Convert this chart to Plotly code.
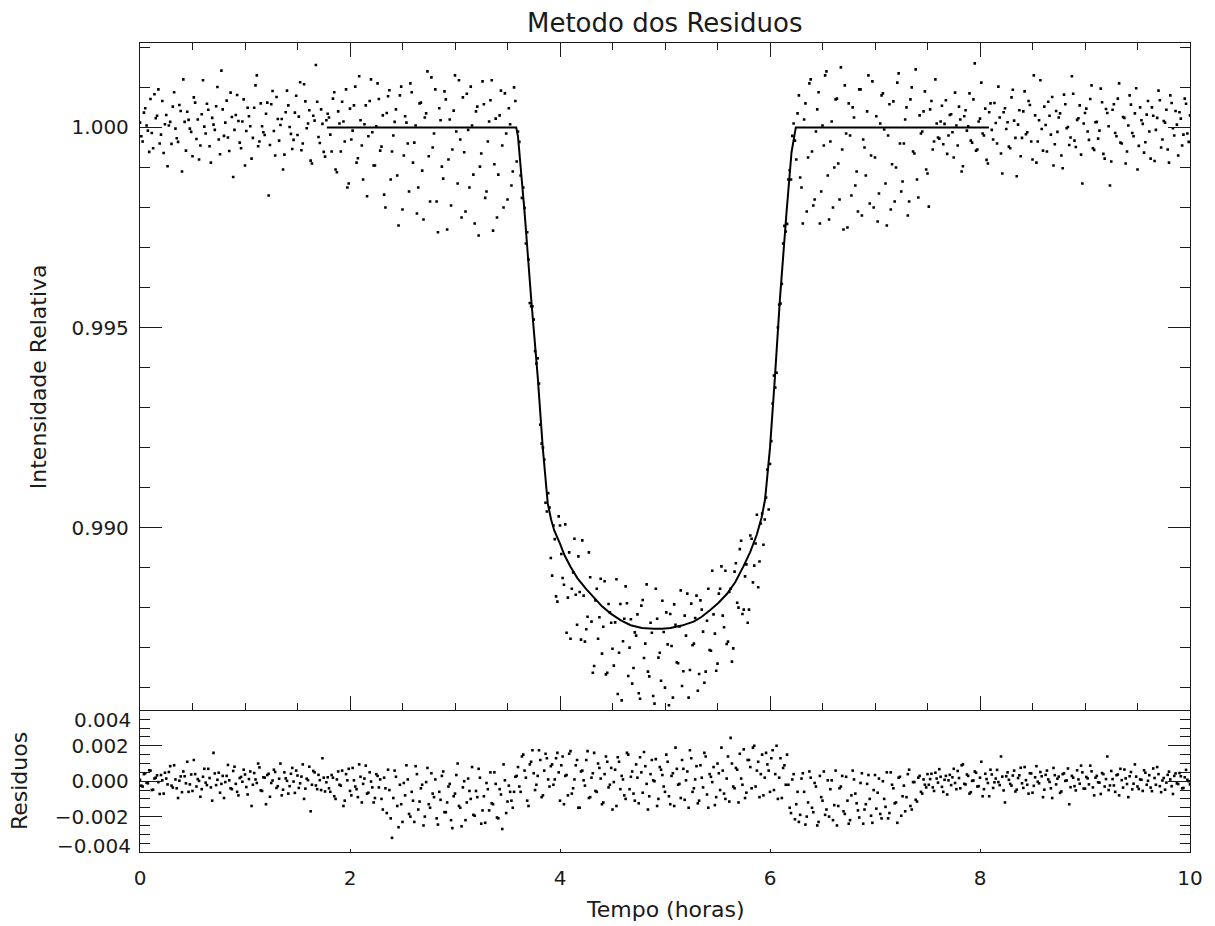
import numpy as np
import plotly.graph_objects as go

# ---------------- data ----------------
# Relative intensity, samples on the 0.025 h cadence (t = 0, 0.025, ..., 10)
flux = [
    1.00012, 0.99965, 1.00048, 0.99992, 1.00071, 0.99948, 1.00023, 1.00095, 0.99982, 0.99936,
    1.00031, 1.00005, 0.99959, 1.00088, 0.99973, 1.00056, 0.99890, 1.00014, 1.00039, 0.99997,
    0.99928, 1.00062, 1.00020, 0.99955, 1.00118, 0.99985, 1.00044, 0.99912, 1.00007, 1.00053,
    0.99970, 1.00142, 0.99979, 1.00067, 0.99941, 1.00026, 0.99994, 1.00081, 0.99962, 1.00015,
    0.99905, 1.00049, 1.00003, 0.99974, 1.00105, 0.99953, 1.00060, 0.99988, 1.00034, 0.99830,
    1.00058, 0.99991, 1.00076, 0.99967, 1.00021, 0.99932, 1.00092, 1.00001, 0.99946, 1.00037,
    0.99981, 1.00113, 0.99960, 1.00065, 1.00010, 0.99917, 1.00029, 1.00156, 0.99976, 1.00045,
    0.99939, 1.00018,
    1.00025, 0.99940, 1.00088, 0.99888, 1.00010, 1.00064, 0.99965, 0.99850, 1.00047, 0.99992,
    1.00102, 0.99923, 1.00018, 0.99870, 1.00055, 0.99978, 1.00120, 0.99905, 1.00003, 1.00071,
    0.99952, 0.99832, 1.00036, 1.00093, 0.99940, 1.00014, 0.99880, 1.00080, 0.99795, 1.00028,
    0.99960, 1.00110, 0.99912, 1.00005, 0.99850, 1.00062, 0.99770, 1.00035, 0.99928, 1.00125,
    0.99985, 0.99815, 1.00048, 0.99902, 1.00090, 0.99745, 1.00020, 0.99945, 1.00130, 0.99860,
    0.99970, 1.00075, 0.99790, 0.99994, 1.00102, 0.99882, 1.00040, 0.99730, 0.99935, 1.00058,
    0.99840, 1.00015, 1.00118, 0.99908, 0.99775, 1.00030, 0.99955, 1.00085, 0.99820, 1.00008,
    0.99890, 1.00066,
    0.99990, 0.99880, 0.99850, 0.99710, 0.99670, 0.99553, 0.99520, 0.99410, 0.99360, 0.99210,
    0.99170, 0.99040,
    0.99050, 0.98880, 0.98971, 0.98815, 0.99005, 0.98874, 0.99008, 0.98825, 0.98722, 0.98888,
    0.98832, 0.98928, 0.98720, 0.98830, 0.98746, 0.98938, 0.98765, 0.98654, 0.98847, 0.98776,
    0.98685, 0.98866, 0.98637, 0.98788, 0.98697, 0.98763, 0.98584, 0.98809, 0.98716, 0.98853,
    0.98629, 0.98771, 0.98649, 0.98730, 0.98586, 0.98805, 0.98674, 0.98858, 0.98628, 0.98737,
    0.98560, 0.98772, 0.98687, 0.98817, 0.98600, 0.98708, 0.98784, 0.98575, 0.98757, 0.98661,
    0.98843, 0.98641, 0.98730, 0.98575, 0.98810, 0.98710, 0.98830, 0.98634, 0.98795, 0.98612,
    0.98767, 0.98694, 0.98892, 0.98735, 0.98660, 0.98847, 0.98780, 0.98892, 0.98715, 0.98847,
    0.98698, 0.98911, 0.98800, 0.98967, 0.98795, 0.98908, 0.98795, 0.98972, 0.98905, 0.99032,
    0.98915, 0.99035, 0.99020, 0.99145, 0.99159,
    0.99310, 0.99350, 0.99500, 0.99560, 0.99710, 0.99740, 0.99870, 0.99870, 1.00010, 0.99920,
    1.00080, 0.99850, 1.00020, 0.99790, 1.00110, 0.99940, 0.99820, 1.00045, 0.99760, 1.00005,
    1.00130, 0.99880, 0.99965, 0.99800, 1.00070, 0.99910, 1.00150, 0.99745, 0.99985, 1.00060,
    0.99830, 1.00025, 0.99890, 1.00095, 0.99780, 0.99950, 1.00040, 0.99810, 1.00115, 0.99925,
    0.99765, 1.00010, 1.00085, 0.99860, 0.99980, 0.99795, 1.00065, 0.99900, 1.00135, 0.99840,
    0.99960, 1.00050, 0.99815, 1.00100, 0.99935, 0.99870, 1.00030, 0.99990, 1.00090, 0.99885,
    1.00045, 0.99945, 1.00120, 0.99975,
    1.00015, 0.99958, 1.00068, 0.99980, 1.00033, 0.99925, 1.00005, 1.00052, 0.99890, 1.00028,
    0.99992, 1.00085, 0.99962, 1.00160, 0.99945, 1.00022, 0.99985, 1.00047, 0.99910, 1.00060,
    0.99970, 1.00011, 1.00102, 0.99935, 1.00038, 0.99996, 0.99952, 1.00075, 1.00017, 0.99878,
    1.00043, 0.99974, 1.00090, 0.99988, 1.00056, 0.99920, 1.00030, 0.99965, 1.00118, 0.99942,
    1.00006, 1.00064, 0.99982, 0.99905, 1.00041, 1.00025, 0.99930, 1.00082, 0.99998, 0.99956,
    1.00128, 0.99967, 1.00019, 1.00055, 0.99860, 1.00036, 0.99990, 1.00071, 0.99948, 1.00013,
    0.99972, 1.00097, 0.99934, 1.00046, 1.00003, 0.99915, 1.00058, 0.99978, 1.00110, 0.99960,
    1.00024, 0.99940, 1.00080, 0.99986, 1.00035, 0.99895, 1.00050, 1.00009, 0.99963, 1.00066,
    0.99922, 1.00029, 0.99994, 1.00092, 0.99950, 1.00016, 1.00044, 0.99912, 1.00061, 0.99980,
    1.00007, 1.00038, 0.99955, 1.00072, 0.99985, 1.00030,
]

# Relative intensity, samples half-way between (t = 0.0125, 0.0375, ..., 9.9875)
flux_mid = [
    0.99978, 1.00037, 1.00005, 0.99939, 0.99986, 1.00083, 1.00029, 0.99960, 1.00066, 1.00008,
    0.99903, 1.00014, 1.00052, 0.99997, 0.99964, 1.00041, 1.00120, 0.99942, 1.00019, 0.99989,
    1.00075, 0.99971, 0.99920, 1.00033, 1.00002, 1.00059, 0.99953, 1.00024, 0.99994, 1.00101,
    0.99933, 1.00045, 1.00012, 0.99975, 1.00087, 0.99876, 1.00031, 1.00016, 0.99948, 1.00070,
    0.99991, 1.00028, 0.99922, 1.00049, 1.00130, 0.99965, 1.00003, 0.99981, 1.00062, 0.99956,
    1.00091, 0.99930, 1.00021, 1.00006, 0.99895, 1.00038, 1.00055, 0.99984, 0.99969, 1.00079,
    1.00027, 0.99943, 1.00108, 0.99998, 1.00043, 0.99910, 1.00017, 1.00064, 0.99961, 1.00009,
    0.99927, 1.00034,
    0.99982, 1.00072, 0.99895, 1.00040, 0.99940, 1.00015, 1.00095, 0.99860, 0.99970, 1.00055,
    0.99912, 1.00128, 0.99955, 1.00008, 0.99828, 1.00066, 0.99988, 0.99905, 1.00110, 0.99942,
    1.00030, 0.99800, 1.00078, 0.99870, 0.99980, 1.00045, 0.99755, 1.00102, 0.99930, 1.00012,
    0.99840, 1.00088, 0.99962, 0.99785, 1.00060, 0.99892, 1.00025, 1.00140, 0.99815, 0.99950,
    1.00095, 0.99738, 1.00018, 0.99872, 1.00070, 0.99920, 0.99805, 1.00042, 0.99990, 1.00118,
    0.99775, 0.99938, 1.00084, 0.99850, 1.00005, 0.99760, 1.00052, 0.99902, 1.00115, 0.99824,
    0.99965, 1.00068, 0.99742, 1.00022, 0.99882, 1.00092, 0.99800, 0.99985, 1.00048, 0.99855,
    1.00100, 0.99915,
    0.99964, 0.99824, 0.99799, 0.99738, 0.99561, 0.99553, 0.99441, 0.99423, 0.99257, 0.99200,
    0.99062, 0.99086,
    0.98924, 0.99005, 0.98828, 0.99028, 0.98934, 0.98857, 0.98737, 0.98938, 0.98847, 0.98972,
    0.98757, 0.98839, 0.98968, 0.98715, 0.98777, 0.98876, 0.98637, 0.98818, 0.98722, 0.98872,
    0.98752, 0.98633, 0.98809, 0.98762, 0.98655, 0.98871, 0.98687, 0.98568, 0.98772, 0.98811,
    0.98700, 0.98610, 0.98738, 0.98783, 0.98572, 0.98819, 0.98710, 0.98640, 0.98762, 0.98579,
    0.98847, 0.98675, 0.98617, 0.98739, 0.98788, 0.98556, 0.98704, 0.98808, 0.98663, 0.98753,
    0.98604, 0.98780, 0.98835, 0.98644, 0.98706, 0.98774, 0.98592, 0.98818, 0.98740, 0.98640,
    0.98847, 0.98692, 0.98783, 0.98642, 0.98835, 0.98903, 0.98751, 0.98709, 0.98839, 0.98665,
    0.98890, 0.98812, 0.98946, 0.98784, 0.98878, 0.98762, 0.98980, 0.98863, 0.98960, 0.98851,
    0.99010, 0.98957, 0.99075, 0.99045,
    0.99216, 0.99380, 0.99387, 0.99557, 0.99609, 0.99754, 0.99759, 0.99893, 0.99979, 0.99967,
    1.00035, 0.99875, 0.99760, 1.00060, 0.99925, 1.00120, 0.99805, 0.99990, 1.00088, 0.99840,
    0.99955, 1.00140, 0.99770, 1.00015, 0.99900, 1.00072, 0.99820, 0.99945, 1.00105, 0.99750,
    0.99980, 1.00050, 0.99855, 0.99790, 1.00095, 0.99970, 0.99880, 1.00130, 0.99930, 0.99800,
    1.00028, 0.99835, 1.00080, 0.99995, 0.99755, 1.00058, 0.99908, 0.99815, 1.00112, 0.99960,
    0.99865, 1.00020, 0.99780, 1.00070, 0.99940, 1.00145, 0.99825, 0.99985, 1.00040, 0.99895,
    0.99802, 1.00066, 0.99965, 1.00010,
    0.99972, 1.00054, 1.00009, 0.99934, 1.00031, 0.99988, 1.00087, 0.99955, 1.00020, 0.99903,
    1.00043, 1.00003, 0.99967, 1.00070, 0.99942, 1.00015, 1.00112, 0.99980, 0.99919, 1.00038,
    0.99994, 1.00061, 0.99960, 1.00025, 0.99885, 1.00048, 1.00013, 0.99948, 1.00094, 0.99974,
    1.00007, 0.99928, 1.00040, 0.99983, 1.00066, 0.99965, 1.00130, 0.99912, 1.00018, 0.99996,
    1.00052, 0.99940, 1.00029, 1.00076, 0.99958, 0.99989, 1.00035, 0.99898, 1.00058, 1.00001,
    0.99975, 1.00084, 0.99951, 1.00023, 0.99932, 1.00010, 1.00047, 0.99969, 1.00105, 0.99944,
    1.00014, 0.99992, 1.00063, 0.99922, 1.00036, 0.99855, 1.00044, 0.99986, 1.00072, 0.99962,
    1.00026, 0.99910, 1.00005, 1.00057, 0.99978, 1.00098, 0.99954, 1.00018, 0.99937, 1.00032,
    0.99990, 1.00050, 0.99916, 1.00024, 1.00068, 0.99970, 1.00012, 0.99945, 1.00080, 0.99998,
    1.00041, 0.99930, 1.00022, 0.99982, 1.00059, 0.99964,
]

# Residuals on the 0.025 h cadence (t = 0, 0.025, ..., 10)
residuals = [
    0.00008, -0.0003, 0.00045, -0.00012, 0.0006, -0.00048, 0.0002, -0.00005, 0.00035, -0.0007,
    0.00015, 0.00052, -0.00025, 0.0009, -0.0004, 0.00003, -0.00062, 0.00028, 0.0011, -0.00018,
    -0.00055, 0.0004, 0.00012, -0.00088, 0.00025, -0.00008, 0.0007, -0.00035, 0.0016, -0.00022,
    0.00048, -0.00015, -0.00095, 0.0003, 0.00005, -0.00045, 0.00082, -0.0006, 0.00018, -0.00003,
    0.00038, -0.00075, 0.00055, -0.0002, 0.0001, 0.001, -0.00052, 0.00022, -0.0013, 0.00042,
    -0.0001, 0.00065, -0.00038, 0.00014, -0.0008, 0.0005, 0.00002, -0.00028, 0.00075, -0.00066,
    0.00032, -0.00012, 0.00095, -0.00042, 0.00006, -0.0017, 0.00058, -0.00024, 0.00036, -0.0005,
    0.0002, -0.00006,
    -0.0004, 0.00035, -0.00085, 0.0001, -0.0002, 0.0006, -0.0011, 0.00005, -0.00055, 0.00075,
    -0.0003, -0.0009, 0.00025, -0.00015, 0.00088, -0.00065, -0.00002, -0.0012, 0.0004, -0.00035,
    -0.001, 0.0002, -0.0018, -0.0005, -0.0032, 0.0006, -0.0014, -0.0002, -0.0023, -0.0008,
    0.0001, -0.002, -0.0011, 0.00085, -0.0016, -0.0004, -0.0025, -0.00005, -0.0013, 0.00045,
    -0.0009, -0.0021, -0.0006, 0.0003, -0.00175, -0.0012, -0.00015, -0.00265, -0.0007, 0.001,
    -0.0015, -0.00035, -0.0022, 0.00015, -0.001, -0.0019, -0.00055, 0.0007, -0.0024, -0.00085,
    -0.0001, -0.00165, -0.00125, 0.0005, -0.00205, -0.00045, -0.0027, 0.00005, -0.00115, -0.0006,
    -0.0015, 0.00025,
    0.0008, -0.0006, 0.0015, 0.0002, -0.0014, 0.0011, 0.00045, -0.0002, 0.00175, -0.0009,
    0.0006, 0.0013, -0.0003, 0.00095, 0.0001, 0.0016,
    -0.0011, 0.0014, 0.0003, -0.0008, 0.0017, -0.0004, 0.0009, -0.0015, 0.00055, 0.00005,
    0.0012, -0.00095, 0.0002, 0.0016, -0.0006, 0.00075, -0.0013, 0.0004, 0.0011, -0.0002,
    -0.0016, 0.00065, 0.00135, -0.00045, 0.0001, -0.001, 0.0015, 0.00025, -0.0007, 0.00095,
    -0.00125, 0.0005, 0.00165, -0.00015, -0.00085, 0.0012, 0.0, -0.0014, 0.0008, 0.00035,
    -0.0006, 0.0011, -0.0013, 0.00045, 0.0019, -0.0002, -0.00095, 0.0007, 0.00005, -0.0015,
    0.0013, -0.0004, 0.00085, -0.0011, 0.0002, 0.0016, -0.00075, 0.0004, -0.00005, -0.00135,
    0.001, -0.0005, 0.0006, -0.001, 0.0014, 0.00245, -0.0003, 0.00075, -0.0012, 0.00015,
    0.0018, -0.00065,
    0.0012, -0.0004, 0.002, 0.0006, -0.0009, 0.0015, 0.0002, 0.00095, -0.0006, 0.00175,
    0.0004, -0.001, 0.0013, 0.00075, -0.0002,
    -0.0002, -0.0018, 0.0004, -0.0013, -0.0023, 0.00015, -0.0006, -0.002, 0.00055, -0.0015,
    -0.0001, -0.0025, 0.0003, -0.0011, -0.0019, 0.00005, -0.00045, -0.0022, 0.0006, -0.0014,
    -0.0003, -0.0017, 0.00025, -0.0024, -0.0008, 0.0001, -0.00125, -0.00205, 0.00045, -0.0016,
    -0.00015, -0.001, -0.00235, 0.00035, -0.00065, -0.00185, 0.0, -0.00145, -0.0021, 0.0005,
    -0.0004, -0.0012, 0.0002, -0.00195, -0.00025, -0.0009, 0.00065, -0.0016, -0.00005, -0.00115,
    0.0003, -0.0007, -0.0002, 0.0004,
    0.00012, -0.00035, 0.00048, -0.00008, 0.00025, -0.0006, 0.0003, 0.00005, -0.00022, 0.0007,
    -0.00045, 0.00018, 0.0009, -0.00015, 0.00038, -0.0007, 0.00002, 0.00055, -0.0003, 0.0002,
    -0.00085, 0.00042, -0.0001, 0.00065, -0.00038, 0.00015, -0.00005, 0.0014, -0.00052, 0.00028,
    0.00008, -0.00025, 0.0006, -0.00048, 0.00033, -0.00012, 0.0008, -0.0002, 0.00045, -0.00065,
    0.00022, -0.00003, 0.00052, -0.0009, 0.00036, 0.0001, -0.0004, 0.00075, -0.00018, 0.00026,
    -0.00058, 0.00044, 0.00004, -0.0013, 0.0003, -0.00028, 0.00062, -0.00014, 0.0005, -0.00042,
    0.00016, 0.00088, -0.00035, 0.0002, -0.00006, -0.00072, 0.0004, 0.00012, -0.0005, 0.00058,
    -0.00024, 0.00034, -0.0008, 0.00006, 0.00066, -0.00016, 0.00028, -0.00046, 0.00095, -0.0003,
    0.0001, -0.00055, 0.00048, 0.00002, -0.00036, 0.00072, -0.0002, 0.0004, -0.00062, 0.00018,
    -0.00008, 0.00054, -0.00028, 0.0003, -0.00012, 0.00046, -0.0004, 0.00022, 0.00008, -0.00018,
]

# Residuals half-way between (t = 0.0125, 0.0375, ..., 9.9875)
residuals_mid = [
    -0.00025, 0.0004, -0.00008, 0.00062, -0.0005, 0.00015, 0.00033, -0.00072, 0.00005, 0.00048,
    -0.00018, 0.00085, -0.00036, 0.0001, -0.00095, 0.00027, 0.00055, -0.00012, -0.0006, 0.00038,
    0.0012, -0.0003, 0.00002, -0.00045, 0.0007, -0.00022, 0.00018, -0.0011, 0.00044, 0.00008,
    -0.00065, 0.0003, -0.00005, 0.00092, -0.0004, 0.00058, -0.00015, -0.0008, 0.00024, 0.00065,
    -0.00033, 0.00012, -0.0014, 0.00046, -0.0001, 0.00078, -0.00055, 0.0002, 0.00035, -0.00088,
    0.00004, 0.00052, -0.00028, 0.001, -0.00048, 0.00016, -0.0007, 0.00042, -0.00002, 0.0006,
    -0.00038, 0.00026, -0.001, 0.00014, 0.00082, -0.0002, 0.0005, -0.00045, 0.00006, 0.0013,
    -0.00058, 0.00022,
    -0.0006, 0.0002, -0.001, 0.00055, -0.00025, -0.0014, 0.0004, 0.0007, -0.0008, 0.00005,
    -0.00045, 0.00095, -0.0012, 0.00015, -0.0007, 0.0005, -0.00035, -0.00095, 0.0003, 0.0001,
    -0.0016, -0.0004, 0.00065, -0.0021, -0.00095, 0.00025, -0.0026, -0.0013, -0.0001, 0.0009,
    -0.00185, -0.0006, -0.0023, 0.0004, -0.00115, -0.0002, -0.002, 0.00075, -0.0015, -0.0007,
    0.0001, -0.00245, -0.00105, 0.00055, -0.00175, -0.0003, -0.0022, -0.00085, 0.00035, -0.0014,
    -0.00255, 0.0, -0.0012, -0.00055, 0.0008, -0.00195, -0.0009, 0.0002, -0.00165, -0.00235,
    -0.00045, 0.0005, -0.0013, -0.00015, -0.0021, -0.00075, 0.00095, -0.0018, -0.00025, -0.0011,
    -0.0006, 0.0003,
    -0.0003, 0.0014, 0.0006, -0.0011, 0.00095, 0.00175, -0.0005, 0.0003, 0.0012, -0.0008,
    0.00155, 0.0001, 0.00085, -0.0002, 0.0013, 0.0005,
    0.0009, -0.0013, 0.00035, 0.00155, -0.0007, 0.0001, 0.0012, -0.0015, 0.0006, -0.00025,
    0.0017, -0.0009, 0.00045, -0.00055, 0.001, 0.00015, -0.0012, 0.0014, -0.00035, 0.00075,
    -0.00005, -0.0014, 0.0011, 0.0003, -0.0008, 0.0016, -0.00045, 0.00055, -0.0011, 0.0002,
    0.00135, -0.00065, 0.00085, -0.0016, 0.0004, 0.00005, 0.00125, -0.001, 0.00065, -0.0003,
    0.0015, -0.00085, 0.0003, -0.0014, 0.0007, -0.00015, 0.0012, -0.00105, 0.00055, 0.00175,
    -0.0006, 0.0001, -0.00125, 0.0009, -0.00035, 0.0014, -0.0015, 0.00025, 0.0008, -0.0009,
    0.00045, 0.0019, -0.0007, 0.00015, -0.00115, 0.001, -0.0004, 0.00065, 0.00155, -0.0002,
    -0.00095, 0.0012,
    0.0008, 0.0019, -0.0003, 0.0011, 0.0004, -0.0008, 0.0016, 0.0006, 0.0013, -0.0005,
    0.002, 0.0002, -0.00095, 0.0009, 0.0015,
    -0.0015, 0.0001, -0.00215, -0.0006, -0.0019, 0.00045, -0.00245, -0.0012, 0.0002, -0.00175,
    -0.0003, -0.0023, -0.0009, 0.00055, -0.0016, -0.002, 0.00005, -0.00135, -0.0025, -0.0004,
    0.0003, -0.00185, -0.0011, -0.0022, 0.0006, -0.0007, -0.00165, -0.0001, -0.0024, -0.0013,
    0.00035, -0.00195, -0.0005, -0.00155, 0.00015, -0.0021, -0.001, 0.0005, -0.0018, -0.0002,
    -0.00125, -0.00235, 0.00025, -0.00085, -0.0017, 0.0004, -0.0014, -0.00005, -0.00105, 0.0002,
    -0.0006, 0.0001, -0.00035,
    -0.0002, 0.00042, -0.00055, 0.00015, 0.00068, -0.00032, 0.00008, -0.00075, 0.00036, 0.00022,
    -0.0001, 0.00058, -0.0004, 0.00095, -0.00018, 0.0003, -0.00062, 0.00004, 0.00048, -0.00028,
    0.0011, -0.00045, 0.00012, -0.00085, 0.00038, -0.00006, 0.00064, -0.00022, 0.00026, -0.0012,
    0.0005, -0.00015, 0.00032, -0.00058, 0.00018, 0.00076, -0.00038, 0.00006, -0.0007, 0.00044,
    -0.00026, 0.00085, -0.00012, 0.00028, -0.00048, 0.0006, -0.00004, -0.00095, 0.00034, 0.00014,
    -0.00066, 0.0004, 0.00002, 0.00072, -0.00034, 0.0002, -0.00052, 0.0001, 0.00088, -0.00042,
    0.00024, -0.00018, 0.00056, -0.0008, 0.0003, -0.00008, 0.00046, -0.0003, 0.0014, -0.00024,
    0.00012, -0.0006, 0.00038, 0.0007, -0.00036, 0.00016, -0.0009, 0.00052, -0.00014, 0.00026,
    -0.00044, 0.00008, 0.00062, -0.0002, 0.00034, -0.00056, 0.00018, 0.0008, -0.00028, 0.00004,
    -0.00048, 0.00036, 0.0001, -0.00072, 0.00044, -0.00016, 0.00028, -0.00038, 0.00064, 0.0,
]

# Fitted transit model (solid line)
model_time = [1.78, 3.583, 3.600, 3.662, 3.725, 3.788, 3.836, 3.883, 3.915, 3.946,
              4.000, 4.041, 4.100, 4.167, 4.250, 4.325, 4.400, 4.483, 4.580, 4.673,
              4.780, 4.894, 4.970, 5.052, 5.160, 5.273, 5.350, 5.431, 5.510, 5.589,
              5.670, 5.747, 5.810, 5.874, 5.920, 5.953, 5.975, 6.000, 6.047, 6.095,
              6.158, 6.205, 6.246, 8.085]
model_flux = [1.00000, 1.00000, 0.99977, 0.99790, 0.99573, 0.99376, 0.99199, 0.99061, 0.99020, 0.98992,
              0.98960, 0.98932, 0.98902, 0.98873, 0.98846, 0.98824, 0.98803, 0.98785, 0.98768, 0.98756,
              0.98749, 0.98747, 0.98747, 0.98749, 0.98755, 0.98765, 0.98777, 0.98794, 0.98812, 0.98834,
              0.98864, 0.98903, 0.98938, 0.98982, 0.99025, 0.99070, 0.99130, 0.99199, 0.99376, 0.99573,
              0.99790, 0.99938, 1.00000, 1.00000]

title_text = "Metodo dos Residuos"
x_title = "Tempo (horas)"
y_title_top = "Intensidade Relativa"
y_title_bottom = "Residuos"
x_tick_vals = [0, 2, 4, 6, 8, 10]
res_tick_vals = [-0.004, -0.002, 0.0, 0.002, 0.004]
res_tick_text = ["", "\u22120.002", "0.000", "0.002", ""]

# observation times (uniform 0.025 h cadence, two interleaved sets)
t_main = np.linspace(0, 10, len(flux))
t_mid = np.linspace(0.0125, 9.9875, len(flux_mid))
tr_main = np.linspace(0, 10, len(residuals))
tr_mid = np.linspace(0.0125, 9.9875, len(residuals_mid))

time_flux = np.concatenate([t_main, t_mid])
flux_all = np.concatenate([flux, flux_mid])
time_res = np.concatenate([tr_main, tr_mid])
res_all = np.concatenate([residuals, residuals_mid])

# ---------------- figure ----------------
FONT = "DejaVu Sans"
INK = "#1a1a1a"
W, H = 1215, 926
ML, MR, MT, MB = 140, 20, 43, 74
PW, PH = W - ML - MR, H - MT - MB
SPLIT = 0.175


def px_x(px):
    return (px - ML) / PW


def px_y(py):
    return (H - MB - py) / PH


dot = dict(color="black", size=2.6, symbol="square", line=dict(width=0))

fig = go.Figure()
fig.add_trace(go.Scatter(x=time_flux, y=flux_all, mode="markers", xaxis="x", yaxis="y",
                         marker=dot, hoverinfo="skip", showlegend=False))
fig.add_trace(go.Scatter(x=model_time, y=model_flux, mode="lines", xaxis="x", yaxis="y",
                         line=dict(color="black", width=2), hoverinfo="skip", showlegend=False))
fig.add_trace(go.Scatter(x=time_res, y=res_all, mode="markers", xaxis="x2", yaxis="y2",
                         marker=dot, hoverinfo="skip", showlegend=False))

common = dict(showline=True, linecolor=INK, linewidth=1.3, ticks="inside", tickcolor=INK,
              tickwidth=1.2, showgrid=False, zeroline=False,
              tickfont=dict(family=FONT, size=20, color=INK))

fig.update_layout(
    width=W, height=H,
    margin=dict(l=ML, r=MR, t=MT, b=MB, pad=0),
    paper_bgcolor="white", plot_bgcolor="white",
    showlegend=False,
    xaxis=dict(**common, domain=[0, 1], anchor="y", range=[0, 10], tickvals=x_tick_vals,
               ticklen=14, mirror="ticks", showticklabels=False,
               minor=dict(dtick=0.5, tick0=0, ticklen=7, ticks="inside", tickcolor=INK, tickwidth=1.2)),
    xaxis2=dict(**common, domain=[0, 1], anchor="y2", range=[0, 10], tickvals=x_tick_vals,
                ticklen=3, mirror=False, ticklabelstandoff=8),
    yaxis=dict(**common, domain=[SPLIT, 1], anchor="x", range=[0.98543, 1.00211],
               tick0=0.99, dtick=0.005, tickformat=".3f", ticklen=22, mirror="ticks",
               ticklabelstandoff=6,
               minor=dict(dtick=0.001, tick0=0.99, ticklen=10, ticks="inside", tickcolor=INK, tickwidth=1.2)),
    yaxis2=dict(**common, domain=[0, SPLIT], anchor="x2", range=[-0.004, 0.004],
                tickvals=res_tick_vals, ticktext=res_tick_text, ticklen=22, mirror="ticks",
                ticklabelstandoff=6,
                minor=dict(dtick=0.0005, tick0=0, ticklen=10, ticks="inside", tickcolor=INK, tickwidth=1.2)),
)

ann_font = dict(family=FONT, color=INK)
annotations = [
    dict(text=title_text, x=px_x(667.5), y=px_y(22.7), font=dict(**ann_font, size=26),
         xanchor="center", yanchor="middle"),
    dict(text=x_title, x=px_x(667.7), y=px_y(910), font=dict(**ann_font, size=22),
         xanchor="center", yanchor="middle"),
    dict(text=y_title_top, x=px_x(38), y=px_y(376.7), textangle=-90, font=dict(**ann_font, size=22),
         xanchor="center", yanchor="middle"),
    dict(text=y_title_bottom, x=px_x(19), y=px_y(781.5), textangle=-90, font=dict(**ann_font, size=22),
         xanchor="center", yanchor="middle"),
    dict(text="0.004", x=px_x(133), y=px_y(720), font=dict(**ann_font, size=20),
         xanchor="right", yanchor="middle"),
    dict(text="\u22120.004", x=px_x(133), y=px_y(846), font=dict(**ann_font, size=20),
         xanchor="right", yanchor="middle"),
]
for a in annotations:
    a.update(xref="paper", yref="paper", showarrow=False)
fig.update_layout(annotations=annotations)

fig.write_html("out.html")
